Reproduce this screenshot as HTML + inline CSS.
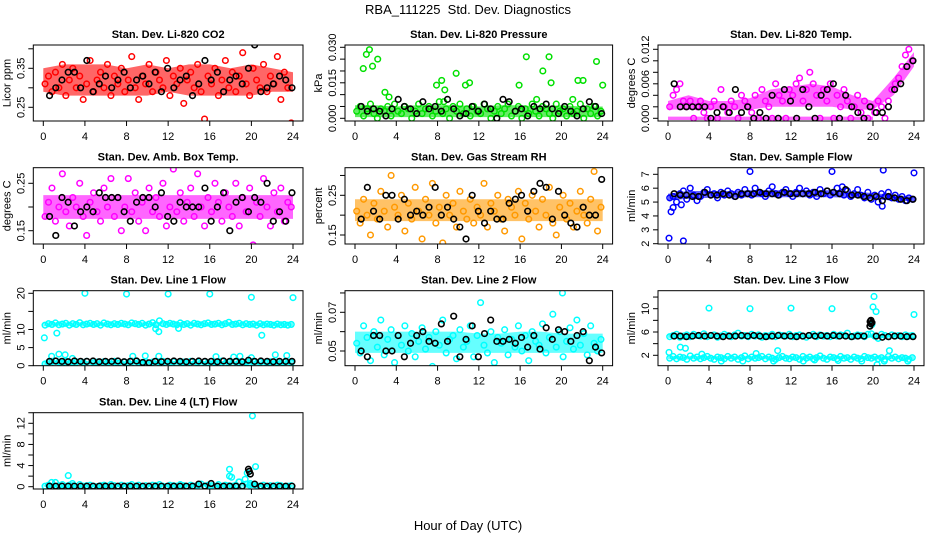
<!DOCTYPE html>
<html><head><meta charset="utf-8">
<style>
html,body{margin:0;padding:0;background:#fff;}
svg{display:block;font-family:"Liberation Sans",Arial,sans-serif;}
</style></head>
<body>
<svg id="chart" width="936" height="540" viewBox="0 0 936 540" xmlns="http://www.w3.org/2000/svg">
<rect width="936" height="540" fill="#fff"/>
<text x="468" y="14" text-anchor="middle" font-size="13" xml:space="preserve">RBA_111225  Std. Dev. Diagnostics</text>
<text x="468" y="530" text-anchor="middle" font-size="13">Hour of Day (UTC)</text>
</svg>
<script>
// ===== data =====
const xTicks = [0,4,8,12,16,20,24];
const bandHours = [0,2,4,6,8,10,12,14,16,18,20,22,24];

const co2Red = [0.31,0.33,0.29,0.34,0.30,0.36,0.28,0.32,0.35,0.30,0.33,0.27,0.31,0.37,0.29,0.32,0.34,0.30,0.36,0.28,0.33,0.31,0.35,0.29,0.32,0.38,0.30,0.27,0.33,0.31,0.36,0.29,0.34,0.32,0.30,0.37,0.28,0.33,0.31,0.35,0.26,0.32,0.34,0.30,0.36,0.29,0.22,0.33,0.31,0.35,0.28,0.32,0.37,0.30,0.34,0.29,0.33,0.39,0.31,0.28,0.35,0.32,0.30,0.36,0.29,0.33,0.31,0.38,0.27,0.34,0.30,0.21];
const co2Black = [0.28,0.30,0.32,0.34,0.34,0.30,0.37,0.29,0.31,0.33,0.30,0.32,0.34,0.30,0.32,0.33,0.31,0.34,0.29,0.35,0.30,0.32,0.33,0.28,0.31,0.37,0.32,0.34,0.29,0.32,0.33,0.31,0.35,0.41,0.29,0.30,0.31,0.33,0.32,0.30];
const co2BandLo = [0.29,0.28,0.28,0.28,0.28,0.28,0.29,0.28,0.28,0.28,0.28,0.29,0.29];
const co2BandHi = [0.35,0.36,0.36,0.36,0.35,0.36,0.35,0.36,0.36,0.35,0.36,0.35,0.34];

const presGreen = [0.003,0.005,0.001,0.004,0.006,0.002,0.000,0.004,0.003,0.005,0.001,0.006,0.003,0.002,0.005,0.004,0.000,0.003,0.006,0.002,0.004,0.005,0.001,0.003,0.007,0.002,0.004,0.000,0.005,0.003,0.006,0.002,0.004,0.001,0.005,0.003,0.002,0.006,0.004,0.000,0.003,0.005,0.002,0.004,0.006,0.001,0.003,0.005,0.000,0.004,0.002,0.006,0.003,0.001,0.005,0.004,0.002,0.000,0.006,0.003,0.004,0.001,0.005,0.002,0.003,0.006,0.000,0.004,0.002,0.005,0.001,0.003];
const presOutX = [0.8,1.1,1.4,1.7,2.2,2.9,3.3,7.9,8.4,8.7,8.6,9.8,10.7,11.1,15.9,16.6,17.6,18.2,18.8,19.0,21.1,21.6,22.1,23.4,24.0];
const presOutY = [0.021,0.027,0.029,0.022,0.025,0.011,0.009,0.014,0.016,0.012,0.007,0.019,0.014,0.015,0.014,0.026,0.008,0.020,0.026,0.015,0.008,0.016,0.016,0.024,0.014];
const presBlack = [0.005,0.003,0.004,0.003,0.001,0.004,0.008,0.005,0.004,0.002,0.007,0.004,0.005,0.003,0.008,0.004,0.001,0.002,0.005,0.003,0.006,0.004,0.000,0.008,0.007,0.003,0.004,0.001,0.005,0.004,0.006,0.004,0.002,0.005,0.003,0.001,0.004,0.007,0.005,0.002];
const presBandLo = [0.0005,0.0005,0.0005,0.0005,0.0005,0.0005,0.0005,0.0005,0.0005,0.0005,0.0005,0.0005,0.0005];
const presBandHi = [0.0055,0.0055,0.005,0.0055,0.0055,0.0055,0.005,0.0055,0.0055,0.005,0.0055,0.005,0.005];

const tempMag = [0.002,0.004,0.005,0.006,0.003,0.002,0.003,0.000,0.002,0.003,0.001,0.000,0.002,0.003,0.000,0.005,0.002,0.001,0.003,0.002,0.000,0.004,0.003,0.002,0.001,0.004,0.000,0.005,0.003,0.002,0.000,0.006,0.004,0.003,0.000,0.005,0.004,0.006,0.007,0.003,0.005,0.008,0.006,0.004,0.000,0.005,0.003,0.006,0.000,0.004,0.002,0.005,0.003,0.000,0.002,0.004,0.001,0.003,0.000,0.002,0.001,0.003,0.002,0.000,0.003,0.005,0.006,0.007,0.009,0.011,0.012,0.010];
const tempBlack = [0.006,0.002,0.002,0.002,0.002,0.002,0.000,0.001,0.002,0.001,0.005,0.001,0.002,0.000,0.001,0.000,0.004,0.000,0.005,0.003,0.000,0.005,0.002,0.000,0.004,0.005,0.006,0.000,0.004,0.002,0.001,0.000,0.002,0.001,0.001,0.002,0.005,0.006,0.009,0.010];
const tempBandLo = [0.0015,0.0015,0.0015,0.0015,0.0015,0.002,0.002,0.002,0.002,0.0015,0.0015,0.004,0.009];
const tempBandHi = [0.003,0.004,0.003,0.003,0.0035,0.005,0.0055,0.006,0.0055,0.004,0.003,0.007,0.0115];
const tempZeroLo = [-0.0003,-0.0003,-0.0003,-0.0003,-0.0003,-0.0003,-0.0003,-0.0003,-0.0003,-0.0003,-0.0003,null,null];
const tempZeroHi = [0.0003,0.0003,0.0003,0.0003,0.0003,0.0003,0.0003,0.0003,0.0003,0.0003,0.0003,null,null];

const ambMag = [0.18,0.21,0.24,0.17,0.20,0.27,0.19,0.16,0.22,0.20,0.25,0.18,0.14,0.21,0.23,0.19,0.17,0.24,0.20,0.26,0.18,0.22,0.15,0.20,0.26,0.19,0.23,0.17,0.21,0.15,0.24,0.19,0.22,0.18,0.25,0.16,0.20,0.28,0.19,0.23,0.17,0.21,0.24,0.18,0.27,0.20,0.16,0.22,0.19,0.25,0.21,0.17,0.23,0.20,0.18,0.25,0.16,0.22,0.19,0.24,0.12,0.21,0.18,0.26,0.20,0.16,0.23,0.19,0.24,0.17,0.21,0.20];
const ambBlack = [0.18,0.14,0.22,0.21,0.16,0.19,0.20,0.19,0.23,0.22,0.22,0.22,0.19,0.17,0.21,0.22,0.22,0.20,0.23,0.18,0.17,0.21,0.20,0.20,0.20,0.24,0.17,0.20,0.23,0.15,0.21,0.22,0.19,0.22,0.21,0.25,0.17,0.19,0.17,0.23];
const ambBandLo = [0.175,0.175,0.175,0.175,0.175,0.175,0.175,0.175,0.175,0.175,0.175,0.175,0.175];
const ambBandHi = [0.225,0.225,0.225,0.225,0.225,0.225,0.225,0.225,0.225,0.225,0.225,0.225,0.225];

const rhOrange = [0.21,0.18,0.24,0.20,0.15,0.23,0.19,0.26,0.21,0.17,0.30,0.22,0.20,0.25,0.16,0.23,0.19,0.27,0.21,0.14,0.24,0.20,0.28,0.18,0.22,0.13,0.25,0.20,0.23,0.17,0.26,0.21,0.19,0.24,0.18,0.22,0.20,0.28,0.17,0.23,0.21,0.25,0.19,0.16,0.24,0.22,0.20,0.26,0.14,0.23,0.19,0.25,0.21,0.17,0.24,0.20,0.27,0.18,0.15,0.22,0.25,0.19,0.23,0.17,0.21,0.26,0.20,0.18,0.24,0.31,0.16,0.22];
const rhBlack = [0.19,0.27,0.21,0.19,0.25,0.25,0.19,0.24,0.20,0.21,0.20,0.22,0.27,0.20,0.22,0.19,0.17,0.14,0.25,0.21,0.18,0.21,0.19,0.19,0.23,0.24,0.25,0.21,0.26,0.28,0.27,0.19,0.26,0.20,0.18,0.17,0.22,0.20,0.20,0.29];
const rhBandLo = [0.185,0.185,0.185,0.185,0.185,0.185,0.185,0.185,0.185,0.185,0.185,0.185,0.185];
const rhBandHi = [0.24,0.24,0.24,0.24,0.24,0.24,0.24,0.24,0.24,0.24,0.24,0.24,0.24];

const flowBlue = [5.3,5.4,5.0,5.6,5.8,5.2,6.0,5.5,5.1,5.4,5.7,5.9,5.5,5.6,5.3,5.7,5.5,5.8,5.6,5.4,5.7,5.5,5.9,5.6,5.5,6.0,5.7,5.6,5.4,5.8,6.1,5.6,5.5,5.7,5.9,5.6,5.4,5.7,6.0,5.6,5.8,5.5,5.7,5.4,5.9,5.6,5.8,5.5,5.7,6.0,5.6,5.5,5.8,5.4,5.6,5.9,5.5,5.3,5.7,5.2,5.5,5.0,5.6,5.4,5.7,5.3,5.5,5.2,5.4,5.1,5.3,5.2];
const flowOutX = [0.1,0.3,0.5,1.5,8.0,16.0,17.0,21.0,24.0,20.9,1.3];
const flowOutY = [2.4,4.3,4.6,2.2,7.2,7.2,6.1,7.3,7.1,4.7,4.8];
const flowBlack = [5.6,5.5,5.5,5.4,5.4,5.7,5.5,5.5,5.6,5.5,5.4,5.6,5.6,5.6,5.7,5.6,5.6,5.5,5.7,5.6,5.6,5.6,5.6,5.7,5.6,5.8,5.7,5.6,5.9,5.5,5.5,5.4,5.3,5.4,5.1,5.4,5.3,5.2,5.1,5.2];
const flowBandLo = [5.1,5.25,5.3,5.3,5.35,5.35,5.35,5.35,5.35,5.3,5.2,5.1,5.05];
const flowBandHi = [5.6,5.8,5.8,5.8,5.85,5.85,5.85,5.85,5.85,5.75,5.65,5.5,5.4];

const line1Hi = [11.2,11.6,11.4,11.8,11.3,11.5,11.7,11.2,11.6,11.4,11.9,11.3,11.5,11.7,11.4,11.6,11.2,11.8,11.5,11.3,11.6,11.4,11.7,11.5,11.3,11.8,11.6,11.4,11.7,11.2,11.5,11.9,11.3,12.4,11.6,11.4,11.7,11.5,11.3,11.8,11.4,11.6,11.2,11.7,11.5,11.3,11.6,11.8,11.4,11.5,11.7,11.3,11.6,12.0,11.4,11.5,11.7,11.3,11.6,11.4,11.5,11.2,11.6,11.3,11.5,11.4,11.2,11.5,11.3,11.4,11.2,11.4];
const line1Lo = [0.5,0.9,1.2,0.4,1.0,0.7,1.3,0.6,0.8,1.1,0.5,0.9,1.2,0.3,0.8,1.0,0.6,1.1,0.9,0.5,1.2,0.7,0.4,1.0,0.8,1.3,0.6,0.9,0.5,1.1,0.7,1.0,0.4,0.8,1.2,0.6,0.9,1.1,0.5,0.8,1.0,0.7,1.2,0.4,0.9,0.6,1.1,0.8,0.5,1.0,0.7,1.3,0.6,0.9,0.4,1.1,0.8,0.5,1.0,0.7,1.2,0.6,0.9,0.3,0.8,1.1,0.5,1.0,0.7,0.9,0.6,0.8];
const line1OutX = [0.1,1.3,0.8,1.5,2.1,2.8,4,5.4,8,8.6,9.8,10.8,11.1,11.1,12,13,16,16.6,18.3,18.9,20,20,21,22.3,23.4,24];
const line1OutY = [7.7,9.0,2.6,3.2,3.0,2.0,20,0.2,19.8,2.6,2.7,10.2,9.4,2.6,19.8,10.3,19.8,2.5,2.4,2.6,18.9,2.2,8.4,3.0,2.8,18.8];
const line1Black = [1.2,1.3,1.2,1.1,1.3,1.2,1.2,1.3,1.1,1.2,1.2,1.3,1.1,1.2,1.3,0.9,0.8,1.2,1.1,1.2,1.3,1.2,1.1,1.2,1.3,1.2,1.2,1.1,1.3,1.2,1.2,1.1,1.5,1.2,1.3,1.2,1.1,1.2,1.2,1.2];
const line1BandHiLo = [10.9,10.9,10.9,10.9,10.9,10.9,11.0,10.9,10.9,10.9,10.9,10.9,10.9];
const line1BandHiHi = [12.0,12.0,12.0,12.0,12.0,12.0,12.1,12.0,12.0,12.0,11.9,11.9,11.9];
const line1BandLoLo = [0.2,0.2,0.2,0.2,0.2,0.2,0.2,0.2,0.2,0.2,0.2,0.2,0.2];
const line1BandLoHi = [1.3,1.3,1.3,1.3,1.3,1.3,1.3,1.3,1.3,1.3,1.3,1.3,1.3];

const line2Cyan = [0.054,0.049,0.063,0.057,0.045,0.060,0.052,0.066,0.048,0.056,0.061,0.044,0.058,0.053,0.063,0.050,0.059,0.047,0.055,0.062,0.051,0.057,0.042,0.060,0.053,0.066,0.049,0.056,0.058,0.046,0.061,0.052,0.055,0.063,0.047,0.058,0.075,0.053,0.049,0.060,0.044,0.057,0.054,0.061,0.048,0.056,0.052,0.063,0.050,0.058,0.045,0.060,0.055,0.053,0.064,0.049,0.057,0.069,0.052,0.060,0.047,0.055,0.062,0.051,0.066,0.053,0.059,0.048,0.063,0.054,0.050,0.056];
const line2OutX = [20.1];
const line2OutY = [0.080];
const line2Black = [0.050,0.047,0.058,0.058,0.050,0.050,0.058,0.047,0.054,0.058,0.060,0.055,0.054,0.064,0.055,0.068,0.047,0.056,0.063,0.047,0.059,0.066,0.055,0.055,0.056,0.054,0.057,0.052,0.058,0.051,0.062,0.056,0.061,0.060,0.055,0.058,0.060,0.045,0.052,0.049];
const line2BandLo = [0.049,0.049,0.049,0.049,0.049,0.049,0.049,0.049,0.049,0.049,0.049,0.049,0.049];
const line2BandHi = [0.060,0.060,0.060,0.060,0.060,0.060,0.059,0.059,0.060,0.060,0.059,0.059,0.059];

const line3Hi = [5.2,5.4,5.6,5.1,5.3,5.5,5.2,5.6,5.4,5.3,5.7,5.2,5.4,5.5,5.1,5.3,5.6,5.4,5.2,5.5,5.8,5.3,5.4,5.2,5.6,5.3,5.5,5.1,5.4,5.3,5.6,5.2,5.5,5.4,5.3,5.6,5.2,5.4,5.5,5.3,5.1,5.4,5.6,5.2,5.5,5.3,5.4,5.2,5.6,5.3,5.5,5.4,5.8,5.2,5.3,5.5,5.4,5.2,5.6,5.7,5.3,4.9,5.6,5.4,5.2,5.5,5.3,5.4,5.2,5.5,5.3,5.4];
const line3Lo = [1.5,1.8,1.4,1.7,1.6,1.3,1.9,1.5,1.7,1.4,1.6,1.8,1.5,1.3,1.7,1.6,1.4,1.8,1.5,1.7,1.3,1.6,1.9,1.4,1.7,1.5,1.6,1.8,1.4,1.7,1.5,1.3,1.6,1.8,1.5,1.4,1.7,1.6,1.3,1.8,1.5,1.7,1.4,1.6,1.9,1.5,1.3,1.7,1.6,1.4,1.8,1.5,1.6,1.3,1.7,1.5,1.4,1.8,1.6,1.5,1.7,1.4,1.6,1.3,1.8,1.5,1.7,1.4,1.6,1.5,1.3,1.6];
const line3OutX = [0.1,1.2,1.7,3.3,4,5.2,7.3,8,8.6,10.3,10.7,12,13.2,14.3,16,16.6,18.9,19.9,20.1,20.0,20.3,20.4,21.6,21.1,23.4,24];
const line3OutY = [2.5,3.4,3.2,2.2,10.1,1.0,1.0,10.0,2.3,1.0,2.8,10.1,1.0,1.2,10.0,1.1,1.0,7.3,12.1,10.3,9.5,0.4,2.8,1.0,1.0,9.0];
const line3Black = [5.3,5.3,5.2,5.3,5.4,5.3,5.4,5.3,5.2,5.3,5.3,5.4,5.3,5.4,5.3,5.2,5.3,5.4,5.3,5.3,5.2,5.3,5.4,5.3,5.4,5.3,5.4,5.3,5.3,5.2,5.3,5.3,7.8,5.3,5.1,5.2,5.3,5.3,5.2,5.2];
const line3BlackOutX = [19.8,19.8,19.9,19.7];
const line3BlackOutY = [7.4,8.0,7.6,7.0];
const line3BandHiLo = [5.0,5.0,5.0,5.0,5.0,5.0,5.0,5.0,5.0,5.0,5.0,5.0,5.0];
const line3BandHiHi = [5.7,5.7,5.6,5.6,5.6,5.6,5.6,5.6,5.6,5.6,5.6,5.6,5.6];
const line3BandLoLo = [1.3,1.3,1.3,1.3,1.3,1.3,1.3,1.3,1.3,1.3,1.3,1.3,1.3];
const line3BandLoHi = [1.9,1.9,1.9,1.9,1.9,1.9,1.9,1.9,1.9,1.9,1.9,1.9,1.9];

const line4Cyan = [0.1,0.3,0.0,0.8,0.2,0.4,0.1,0.3,0.2,0.0,0.4,0.1,0.2,0.3,0.1,0.0,0.2,0.3,0.1,0.4,0.2,0.0,0.3,0.1,0.2,0.4,0.1,0.3,0.0,0.2,0.1,0.3,0.2,0.4,0.1,0.0,0.3,0.2,0.1,0.4,0.2,0.0,0.3,0.1,0.2,0.5,0.1,0.3,0.2,0.0,0.4,0.1,0.3,0.2,0.1,0.3,0.9,0.2,0.5,0.3,0.4,0.2,0.1,0.3,0.0,0.2,0.1,0.3,0.2,0.0,0.1,0.2];
const line4OutX = [0.8,2.4,2.8,17.9,17.9,18.1,18.8,19.4,19.6,20.1,20.4,19.9];
const line4OutY = [0.8,2.1,0.6,3.3,2.0,1.8,0.9,1.4,2.6,13.4,3.8,0.6];
const line4Black = [0.1,0.1,0.1,0.1,0.1,0.1,0.1,0.1,0.1,0.1,0.1,0.1,0.1,0.1,0.1,0.1,0.1,0.1,0.1,0.1,0.1,0.1,0.1,0.1,0.5,0.1,0.6,0.1,0.1,0.1,0.1,0.1,3.3,0.5,0.1,0.1,0.1,0.1,0.1,0.1];
const line4BlackOutX = [19.9,19.8];
const line4BlackOutY = [2.4,2.9];
const line4BandLo = [0.0,0.0,0.0,0.0,0.0,0.0,0.0,0.0,0.0,0.0,0.0,0.0,0.0];
const line4BandHi = [0.4,0.4,0.4,0.4,0.4,0.4,0.4,0.4,0.4,0.4,0.4,0.4,0.4];

// ===== layout (not data) =====
const cols = [{l:33.3,r:303,x0:43.3,x24:293},{l:345,r:612.6,x0:355,x24:602.7},{l:658,r:924,x0:668,x24:914}];
const rows = [{t:45,b:121},{t:167.7,b:244},{t:290.7,b:365.7},{t:412.7,b:489}];

const svg = document.getElementById('chart');
const NS = 'http://www.w3.org/2000/svg';
function mk(tag, attrs, parent){ const e=document.createElementNS(NS,tag); for(const k in attrs) e.setAttribute(k,attrs[k]); (parent||svg).appendChild(e); return e; }

const panels = [
 {id:'co2',title:'Stan. Dev. Li-820 CO2',ylab:'Licor ppm',c:0,r:0,v0:0.25,p0:107.3,v1:0.35,p1:68.3,ticks:[0.25,0.30,0.35,0.40],labs:['0.25',null,'0.35',null],color:'#ff0000',
  bands:[[co2BandLo,co2BandHi]],main:[co2Red],out:[],black:co2Black,blackOut:[]},
 {id:'pressure',title:'Stan. Dev. Li-820 Pressure',ylab:'kPa',c:1,r:0,v0:0,p0:118.3,v1:0.03,p1:47.3,ticks:[0,0.005,0.01,0.015,0.02,0.025,0.03],labs:['0.000',null,null,'0.015',null,null,'0.030'],color:'#00e000',
  bands:[[presBandLo,presBandHi]],main:[presGreen],out:[[presOutX,presOutY]],black:presBlack,blackOut:[]},
 {id:'temp',title:'Stan. Dev. Li-820 Temp.',ylab:'degrees C',c:2,r:0,v0:0,p0:118.3,v1:0.012,p1:49.3,ticks:[0,0.002,0.004,0.006,0.008,0.01,0.012],labs:['0.000',null,null,'0.006',null,null,'0.012'],color:'#ff00ff',
  bands:[[tempBandLo,tempBandHi],[tempZeroLo,tempZeroHi]],main:[tempMag],out:[],black:tempBlack,blackOut:[]},
 {id:'amb-box-temp',title:'Stan. Dev. Amb. Box Temp.',ylab:'degrees C',c:0,r:1,v0:0.15,p0:230.7,v1:0.25,p1:183.3,ticks:[0.15,0.20,0.25],labs:['0.15',null,'0.25'],color:'#ff00ff',
  bands:[[ambBandLo,ambBandHi]],main:[ambMag],out:[],black:ambBlack,blackOut:[]},
 {id:'gas-stream-rh',title:'Stan. Dev. Gas Stream RH',ylab:'percent',c:1,r:1,v0:0.15,p0:235,v1:0.25,p1:195.3,ticks:[0.15,0.20,0.25,0.30],labs:['0.15',null,'0.25',null],color:'#ff9900',
  bands:[[rhBandLo,rhBandHi]],main:[rhOrange],out:[],black:rhBlack,blackOut:[]},
 {id:'sample-flow',title:'Stan. Dev. Sample Flow',ylab:'ml/min',c:2,r:1,v0:2,p0:243.7,v1:7,p1:174.3,ticks:[2,3,4,5,6,7],labs:['2','3','4','5','6','7'],color:'#0000ff',
  bands:[[flowBandLo,flowBandHi]],main:[flowBlue],out:[[flowOutX,flowOutY]],black:flowBlack,blackOut:[]},
 {id:'line1-flow',title:'Stan. Dev. Line 1 Flow',ylab:'ml/min',c:0,r:2,v0:0,p0:365.7,v1:20,p1:293.3,ticks:[0,5,10,15,20],labs:['0','5','10',null,'20'],color:'#00ffff',
  bands:[[line1BandHiLo,line1BandHiHi],[line1BandLoLo,line1BandLoHi]],main:[line1Hi,line1Lo],out:[[line1OutX,line1OutY]],black:line1Black,blackOut:[]},
 {id:'line2-flow',title:'Stan. Dev. Line 2 Flow',ylab:'ml/min',c:1,r:2,v0:0.05,p0:351,v1:0.07,p1:312.3,ticks:[0.05,0.06,0.07,0.08],labs:['0.05',null,'0.07',null],color:'#00ffff',
  bands:[[line2BandLo,line2BandHi]],main:[line2Cyan],out:[[line2OutX,line2OutY]],black:line2Black,blackOut:[]},
 {id:'line3-flow',title:'Stan. Dev. Line 3 Flow',ylab:'ml/min',c:2,r:2,v0:2,p0:355.3,v1:10,p1:308.7,ticks:[2,4,6,8,10,12],labs:['2',null,'6',null,'10',null],color:'#00ffff',
  bands:[[line3BandHiLo,line3BandHiHi],[line3BandLoLo,line3BandLoHi]],main:[line3Hi,line3Lo],out:[[line3OutX,line3OutY]],black:line3Black,blackOut:[[line3BlackOutX,line3BlackOutY]]},
 {id:'line4-flow',title:'Stan. Dev. Line 4 (LT) Flow',ylab:'ml/min',c:0,r:3,v0:0,p0:486.7,v1:12,p1:423.3,ticks:[0,2,4,6,8,10,12,14],labs:['0',null,'4',null,'8',null,'12',null],color:'#00ffff',
  bands:[[line4BandLo,line4BandHi]],main:[line4Cyan],out:[[line4OutX,line4OutY]],black:line4Black,blackOut:[[line4BlackOutX,line4BlackOutY]]}
];

panels.forEach(function(p){
  const C = cols[p.c], R = rows[p.r];
  const xs = h => C.x0 + (C.x24 - C.x0) * h / 24;
  const ys = v => p.p0 + (p.p1 - p.p0) * (v - p.v0) / (p.v1 - p.v0);
  const g = mk('g',{});
  
  
  const cid = 'clip-' + p.id;
  const cp = mk('clipPath',{id:cid},g);
  mk('rect',{x:C.l,y:R.t,width:C.r-C.l,height:R.b-R.t},cp);
  const plot = mk('g',{'clip-path':'url(#'+cid+')'},g);

  p.bands.forEach(function(b){
    const lo=b[0], hi=b[1];
    let pts=[], back=[];
    bandHours.forEach(function(h,i){ if(lo[i]!==null){ pts.push(xs(h)+','+ys(hi[i])); back.unshift(xs(h)+','+ys(lo[i])); } });
    const poly = mk('polygon',{points:pts.concat(back).join(' '),fill:p.color,'fill-opacity':'0.6'},plot);
    
    
  });
  p.main.forEach(function(arr){
    arr.forEach(function(v,i){
      const h = (i + 0.5) * 24 / arr.length;
      const c = mk('circle',{cx:xs(h),cy:ys(v),r:2.8,fill:'none',stroke:p.color,'stroke-width':1.5},plot);
      
      
    });
  });
  p.out.forEach(function(o){
    o[0].forEach(function(h,i){
      const c = mk('circle',{cx:xs(h),cy:ys(o[1][i]),r:2.8,fill:'none',stroke:p.color,'stroke-width':1.5},plot);
      
      
    });
  });
  p.black.forEach(function(v,i){
    const h = 0.6 + i * (23.3 / (p.black.length - 1));
    const c = mk('circle',{cx:xs(h),cy:ys(v),r:2.8,fill:'none',stroke:'#000','stroke-width':1.6},plot);
    
    
  });
  p.blackOut.forEach(function(o){
    o[0].forEach(function(h,i){
      const c = mk('circle',{cx:xs(h),cy:ys(o[1][i]),r:2.8,fill:'none',stroke:'#000','stroke-width':1.6},plot);
      
      
    });
  });

  const box = mk('rect',{x:C.l,y:R.t,width:C.r-C.l,height:R.b-R.t,fill:'none',stroke:'#000','stroke-width':1},g);
  
  
  const t = mk('text',{x:(C.l+C.r)/2,y:R.t-7,'text-anchor':'middle','font-size':11,'font-weight':'bold'},g);
  t.textContent = p.title;
  
  
  xTicks.forEach(function(h){
    mk('line',{x1:xs(h),x2:xs(h),y1:R.b,y2:R.b+5,stroke:'#000','stroke-width':1},g);
    const l = mk('text',{x:xs(h),y:R.b+19,'text-anchor':'middle','font-size':11},g);
    l.textContent = h;
    
    
  });
  p.ticks.forEach(function(v,i){
    const y = ys(v);
    if (y < R.t - 1 || y > R.b + 1) return;
    mk('line',{x1:C.l-5,x2:C.l,y1:y,y2:y,stroke:'#000','stroke-width':1},g);
    if (p.labs[i] !== null) {
      const l = mk('text',{x:C.l-9,y:y,'text-anchor':'middle','font-size':11,transform:'rotate(-90 '+(C.l-9)+' '+y+')'},g);
      l.textContent = p.labs[i];
      
      
    }
  });
  const yl = mk('text',{x:C.l-23,y:(R.t+R.b)/2,'text-anchor':'middle','font-size':11,transform:'rotate(-90 '+(C.l-23)+' '+((R.t+R.b)/2)+')'},g);
  yl.textContent = p.ylab;
  
  
});
</script>
</body></html>
